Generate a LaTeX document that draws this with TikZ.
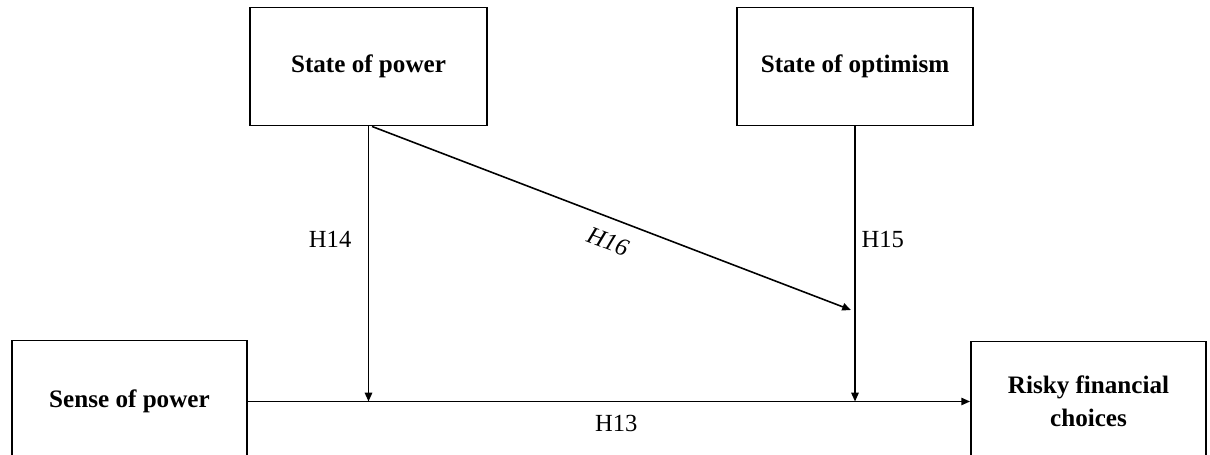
\documentclass[tikz,border=0pt]{standalone}
\usepackage{fontspec}
\setmainfont{Liberation Serif}
\usetikzlibrary{positioning, calc, arrows.meta}
\tikzset{
  %% construct box
  var/.style={
    rectangle, draw, line width=1.1pt,
    minimum width=4.7cm, minimum height=2.36cm,
    align=center, font=\fontsize{14.3}{19}\selectfont\bfseries
  },
  %% arrows
  arr/.style={
    -{Triangle[length=5pt, width=4.2pt]},
    line width=0.9pt
  },
  lbl/.style={font=\fontsize{14}{16}\selectfont}
}
\begin{document}
\begin{tikzpicture}

\useasboundingbox (0,0) rectangle (24.2,9.1);
\clip (0,0) rectangle (24.2,9.1);

%% ═══════════════════════════════════════════════════════════════
%%  MODERATORS — top row
%% ═══════════════════════════════════════════════════════════════

\node[var, minimum width=4.74cm] (statePow) at (7.37,7.77) {State of power};
\node[var, minimum width=4.72cm] (stateOpt) at (17.1,7.77) {State of optimism};

%% ═══════════════════════════════════════════════════════════════
%%  PREDICTOR AND OUTCOME — bottom row
%% ═══════════════════════════════════════════════════════════════

\node[var, minimum height=2.44cm] (sensePow) at (2.59,1.07) {Sense of power};
\node[var, minimum height=2.4cm] (risky) at (21.77,1.07) {Risky financial\\choices};

%% points where the moderator arrows meet
\coordinate (modPow) at (statePow.south |- sensePow.east);
\coordinate (modOpt) at (stateOpt.south |- sensePow.east);
\coordinate (tipH16) at ($(stateOpt.south |- 0,2.9) + (-0.08,0)$);

%% ═══════════════════════════════════════════════════════════════
%%  ARROWS
%% ═══════════════════════════════════════════════════════════════

\draw[arr] (sensePow.east) --
  node[lbl, below=4pt, pos=0.51]{H13} (risky.west);

\draw[arr] (statePow.south) --
  node[lbl, left=6pt, pos=0.41]{H14} (modPow);

\draw[arr] (stateOpt.south) --
  node[lbl, right, pos=0.41]{H15} (modOpt);

\draw[arr] ([xshift=2pt]statePow.south) --
  node[lbl, sloped, below, inner sep=8pt, pos=0.51, font=\fontsize{14}{16}\selectfont\itshape]{H16} (tipH16);

\end{tikzpicture}
\end{document}
